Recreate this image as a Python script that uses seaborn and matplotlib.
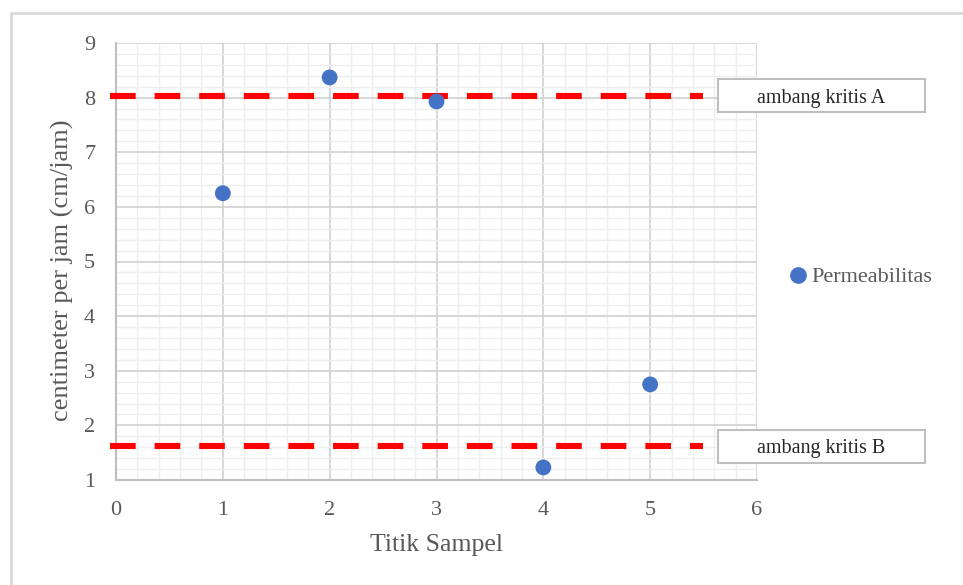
import matplotlib
matplotlib.use("Agg")
import matplotlib.pyplot as plt
import matplotlib.transforms as mtransforms
from matplotlib.lines import Line2D
from matplotlib.patches import Rectangle
from matplotlib.ticker import MultipleLocator
import seaborn as sns
import pandas as pd

# data
titik = [1, 2, 3, 4, 5]
permeabilitas = [6.25, 8.37, 7.93, 1.23, 2.75]
ambang_a = 8.03
ambang_b = 1.62
garis_x = [-0.06, 5.49]
label_a = "ambang kritis A"
label_b = "ambang kritis B"

df = pd.DataFrame({"Titik Sampel": titik, "Permeabilitas": permeabilitas})

sns.set_style("white")
plt.rcParams["font.family"] = ["Liberation Serif", "DejaVu Serif"]

fig = plt.figure(figsize=(9.63, 5.85), dpi=100)
ax = fig.add_axes([116 / 963, 1 - 480 / 585, (757 - 116) / 963, (480 - 43) / 585])

# grid
ax.set_xlim(0, 6)
ax.set_ylim(1, 9)
ax.xaxis.set_major_locator(MultipleLocator(1))
ax.yaxis.set_major_locator(MultipleLocator(1))
ax.xaxis.set_minor_locator(MultipleLocator(0.2))
ax.yaxis.set_minor_locator(MultipleLocator(0.2))
ax.grid(which="minor", color="#eeeeee", lw=1.0)
ax.grid(which="major", color="#d4d4d4", lw=1.3)
ax.set_axisbelow(True)

# threshold lines
for val in (ambang_a, ambang_b):
    ax.plot(garis_x, [val, val], color="#ff0000", lw=4.4, dashes=(4.2, 3.1),
            solid_capstyle="butt", dash_capstyle="butt", zorder=3, clip_on=False)

sns.scatterplot(data=df, x="Titik Sampel", y="Permeabilitas", ax=ax,
                color="#4472c4", s=130, edgecolor="none", zorder=4, legend=False)

for sp in ["top", "right"]:
    ax.spines[sp].set_visible(False)
for sp in ["left", "bottom"]:
    ax.spines[sp].set_color("#bfbfbf")
    ax.spines[sp].set_linewidth(1.5)

ax.tick_params(which="major", length=6, width=1.3, color="#bfbfbf",
               labelsize=16, labelcolor="#595959", direction="out", pad=9)
ax.tick_params(which="minor", length=0)
ax.set_xlabel("Titik Sampel", fontsize=18.5, color="#595959", labelpad=10)
ax.set_ylabel("centimeter per jam (cm/jam)", fontsize=19, color="#595959")
ax.yaxis.set_label_coords(-0.066, 0.48)

# threshold label boxes, centred on each line
trans = mtransforms.blended_transform_factory(ax.transAxes, ax.transData)
box_x0 = (718 - 116) / 641
box_w = 207 / 641
box_h = 33 / 54.6
for val, lab in ((ambang_a, label_a), (ambang_b, label_b)):
    ax.add_patch(Rectangle((box_x0, val - box_h / 2), box_w, box_h, transform=trans,
                           fc="white", ec="#bfbfbf", lw=1.5, clip_on=False, zorder=5))
    ax.text(box_x0 + box_w / 2, val, lab, transform=trans, ha="center",
            va="center_baseline", fontsize=14.5, color="#262626",
            clip_on=False, zorder=6)

handle = Line2D([], [], marker="o", ls="none", color="#4472c4", markersize=11)
fig.legend([handle], ["Permeabilitas"], loc="center left",
           bbox_to_anchor=(765 / 963, 1 - 277 / 585), frameon=False,
           fontsize=16, handletextpad=0.0, handlelength=1.2,
           labelcolor="#595959")

# outer border (top and left visible)
fig.add_artist(Line2D([11 / 963, 1], [1 - 13 / 585] * 2, color="#d9d9d9", lw=2,
                      transform=fig.transFigure))
fig.add_artist(Line2D([11 / 963] * 2, [0, 1 - 13 / 585], color="#d9d9d9", lw=2,
                      transform=fig.transFigure))

fig.savefig("out.png", dpi=100)
